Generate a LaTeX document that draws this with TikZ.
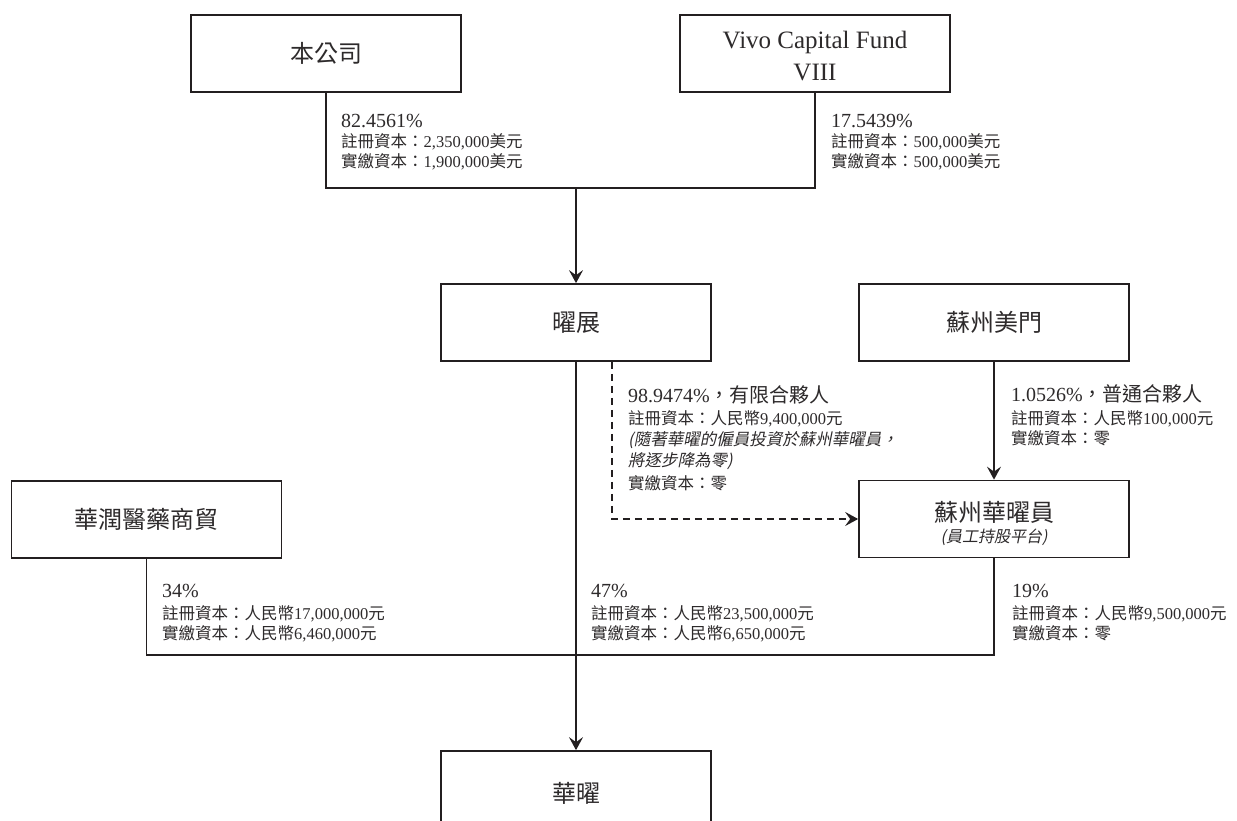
\documentclass[tikz,border=0pt]{standalone}
\usepackage{fontspec}
\setmainfont{Liberation Serif}
\newfontfamily\zhfont{Noto Sans CJK TC}
\newfontfamily\zhslant[FakeSlant=0.2]{Noto Sans CJK TC}
\usetikzlibrary{arrows.meta}
\definecolor{ln}{RGB}{35,31,32}
\definecolor{tx}{RGB}{45,42,43}
\newcommand\zh[1]{{\zhfont #1}}
\newcommand\zhi[1]{{\zhslant #1}}
\begin{document}
\begin{tikzpicture}[x=1pt,y=-1pt,
  box/.style={draw=ln, line width=1.7pt, minimum width=270pt, minimum height=77pt, inner sep=0pt, align=center, text=tx, font=\fontsize{24}{29}\selectfont},
  link/.style={draw=ln, line width=1.7pt},
  arr/.style={link, -{Stealth[length=13pt,width=14pt,inset=5pt]}},
  pct/.style={anchor=base west, inner sep=0pt, text=tx, font=\fontsize{20}{24}\selectfont},
  det/.style={anchor=base west, inner sep=0pt, text=tx, font=\fontsize{16.5}{19}\selectfont},
  inner/.style={inner sep=0pt, text=tx},
]
\useasboundingbox (0,0) rectangle (1237,821);

% boxes
\node[box] (A) at (326,53.5) {\zh{本公司}};
\node[box] (V) at (815,53.5) {};
\node[inner, align=center, font=\fontsize{25}{32}\selectfont] (Vt) at (815,56) {Vivo Capital Fund\\VIII};
\node[box] (Y) at (576,322.5) {\zh{曜展}};
\node[box] (M) at (994,322.5) {\zh{蘇州美門}};
\node[box] (E) at (994,519) {};
\node[inner, font=\fontsize{24}{29}\selectfont] (Et) at (994,512) {\zh{蘇州華曜員}};
\node[inner, font=\fontsize{16}{19}\selectfont] (Es) at (994,537) {\zhi{(員工持股平台)}};
\node[box] (R) at (146.5,519.5) {\zh{華潤醫藥商貿}};
\node[box, minimum height=84pt] (H) at (576,793) {\zh{華曜}};

% connectors
\coordinate (j1) at (576,188);
\coordinate (j2) at (576,655);
\draw[link] (A.south) |- (j1) -| (V.south);
\draw[arr] (j1) -- (j1 |- Y.north);
\draw[arr] (Y.south) -- (H.north);
\draw[link] (R.south) |- (j2) -| (E.south);
\draw[arr, dash pattern=on 7pt off 5pt] ([xshift=36pt]Y.south) |- (E.west);
\draw[arr] (M.south) -- (E.north);

% labels
\node[pct] (a1) at (341,128) {82.4561\%};
\node[det] (a2) at (341,148) {\zh{註冊資本：}2,350,000\zh{美元}};
\node[det] (a3) at (341,168) {\zh{實繳資本：}1,900,000\zh{美元}};

\node[pct] (v1) at (831,128) {17.5439\%};
\node[det] (v2) at (831,148) {\zh{註冊資本：}500,000\zh{美元}};
\node[det] (v3) at (831,168) {\zh{實繳資本：}500,000\zh{美元}};

\node[pct] (d1) at (628,402) {98.9474\%\zh{，有限合夥人}};
\node[det] (d2) at (628,424) {\zh{註冊資本：人民幣}9,400,000\zh{元}};
\node[det] (d3) at (628,445) {\zhi{(隨著華曜的僱員投資於蘇州華曜員，}};
\node[det] (d4) at (628,466) {\zhi{將逐步降為零)}};
\node[det] (d5) at (628,489) {\zh{實繳資本：零}};

\node[pct] (m1) at (1011,401) {1.0526\%\zh{，普通合夥人}};
\node[det] (m2) at (1011,424) {\zh{註冊資本：人民幣}100,000\zh{元}};
\node[det] (m3) at (1011,444) {\zh{實繳資本：零}};

\node[pct] (r1) at (162,597) {34\%};
\node[det] (r2) at (162,619) {\zh{註冊資本：人民幣}17,000,000\zh{元}};
\node[det] (r3) at (162,639) {\zh{實繳資本：人民幣}6,460,000\zh{元}};

\node[pct] (y1) at (591,597) {47\%};
\node[det] (y2) at (591,619) {\zh{註冊資本：人民幣}23,500,000\zh{元}};
\node[det] (y3) at (591,639) {\zh{實繳資本：人民幣}6,650,000\zh{元}};

\node[pct] (e1) at (1012,597) {19\%};
\node[det] (e2) at (1012,619) {\zh{註冊資本：人民幣}9,500,000\zh{元}};
\node[det] (e3) at (1012,639) {\zh{實繳資本：零}};
\end{tikzpicture}
\end{document}
